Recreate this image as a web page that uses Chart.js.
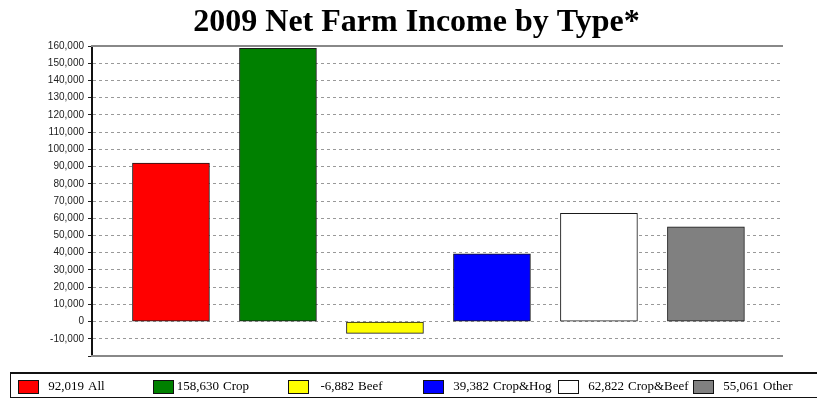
<!DOCTYPE html>
<html>
<head>
<meta charset="utf-8">
<script src="https://cdn.jsdelivr.net/npm/chart.js@4/dist/chart.umd.min.js"></script>
<style>
  html, body { margin:0; padding:0; background:#fff; }
  #wrap { position:relative; width:817px; height:398px; overflow:hidden; }
  #c { position:absolute; left:0; top:0; }
  #legend { position:absolute; left:10px; top:372px; width:820px; height:23px;
            border-top:2px solid #111; border-left:1px solid #111; border-bottom:1px solid #111;
            font-family:"Liberation Serif", "Times New Roman", serif; font-size:13px; color:#000; }
  .item { position:absolute; top:0; height:23px; }
  .box { position:absolute; top:6px; width:19px; height:12px; border:1px solid #111; }
  .num { position:absolute; top:4px; width:45px; text-align:right; white-space:nowrap; line-height:15px; }
  .name { position:absolute; top:4px; white-space:nowrap; line-height:15px; }
</style>
</head>
<body>
<div id="wrap">
  <canvas id="c" width="817" height="398"></canvas>
  <div id="legend"></div>
</div>
<script>
const titleText = "2009 Net Farm Income by Type*";
const categories = ["All", "Crop", "Beef", "Crop&Hog", "Crop&Beef", "Other"];
const values = [92019, 158630, -6882, 39382, 62822, 55061];
const colors = ["#FF0000", "#008000", "#FFFF00", "#0000FF", "#FFFFFF", "#808080"];
const yTicks = [-20000, -10000, 0, 10000, 20000, 30000, 40000, 50000, 60000, 70000, 80000,
                90000, 100000, 110000, 120000, 130000, 140000, 150000, 160000];

const fmt = v => v.toLocaleString('en-US');

const ctx = document.getElementById('c').getContext('2d');
new Chart(ctx, {
  type: 'bar',
  data: {
    datasets: [{
      xAxisID: 'x',
      yAxisID: 'y',
      data: values.map((v, i) => ({ x: i, y: v })),
      backgroundColor: colors,
      borderColor: '#1a1a1a',
      borderWidth: 1,
      borderSkipped: false,
      barThickness: 77
    }]
  },
  options: {
    responsive: false,
    animation: false,
    devicePixelRatio: 1,
    layout: { padding: { left: 16, right: 0, top: 0, bottom: 42 } },
    plugins: {
      legend: { display: false },
      tooltip: { enabled: false },
      title: {
        display: true,
        text: titleText,
        color: '#000',
        font: { family: '"Liberation Serif", "Times New Roman", serif', size: 32, weight: 'bold', lineHeight: 1.2 },
        padding: { top: 4, bottom: 3.6 }
      }
    },
    scales: {
      y: {
        type: 'linear',
        position: 'left',
        min: yTicks[0],
        max: yTicks[yTicks.length - 1],
        afterBuildTicks: s => { s.ticks = yTicks.map(v => ({ value: v })); },
        afterFit: s => { s.width = 76; },
        ticks: {
          padding: 4,
          color: '#222',
          font: { family: '"Liberation Sans", Arial, sans-serif', size: 10 },
          callback: v => (v === yTicks[0] ? '' : fmt(v))
        },
        grid: {
          color: '#999',
          lineWidth: 1,
          tickLength: 4,
          tickColor: '#222',
          tickBorderDash: []
        },
        border: { display: true, color: '#111', width: 2, dash: [3, 3] }
      },
      x: {
        type: 'linear',
        position: 'bottom',
        min: -0.738,
        max: 5.711,
        offset: false,
        ticks: { display: false },
        grid: { display: false },
        border: { display: true, color: '#888', width: 2 },
        afterFit: s => { s.height = 0; }
      },
      x2: {
        type: 'linear',
        position: 'top',
        min: 0, max: 1,
        ticks: { display: false },
        grid: { display: false },
        border: { display: true, color: '#888', width: 2 },
        afterFit: s => { s.height = 0; }
      },
      yRight: {
        type: 'linear',
        position: 'right',
        min: 0, max: 1,
        ticks: { display: false },
        grid: { display: false },
        border: { display: false },
        afterFit: s => { s.width = 35; }
      }
    }
  }
});

// HTML legend
const legend = document.getElementById('legend');
categories.forEach((name, i) => {
  const left = 7 + 135 * i;
  const item = document.createElement('div');
  item.className = 'item';
  item.style.left = left + 'px';
  const box = document.createElement('div');
  box.className = 'box';
  box.style.left = '0px';
  box.style.background = colors[i];
  const num = document.createElement('span');
  num.className = 'num';
  num.style.left = '21px';
  num.textContent = fmt(values[i]);
  const nm = document.createElement('span');
  nm.className = 'name';
  nm.style.left = '70px';
  nm.textContent = name;
  item.appendChild(box); item.appendChild(num); item.appendChild(nm);
  legend.appendChild(item);
});
</script>
</body>
</html>
